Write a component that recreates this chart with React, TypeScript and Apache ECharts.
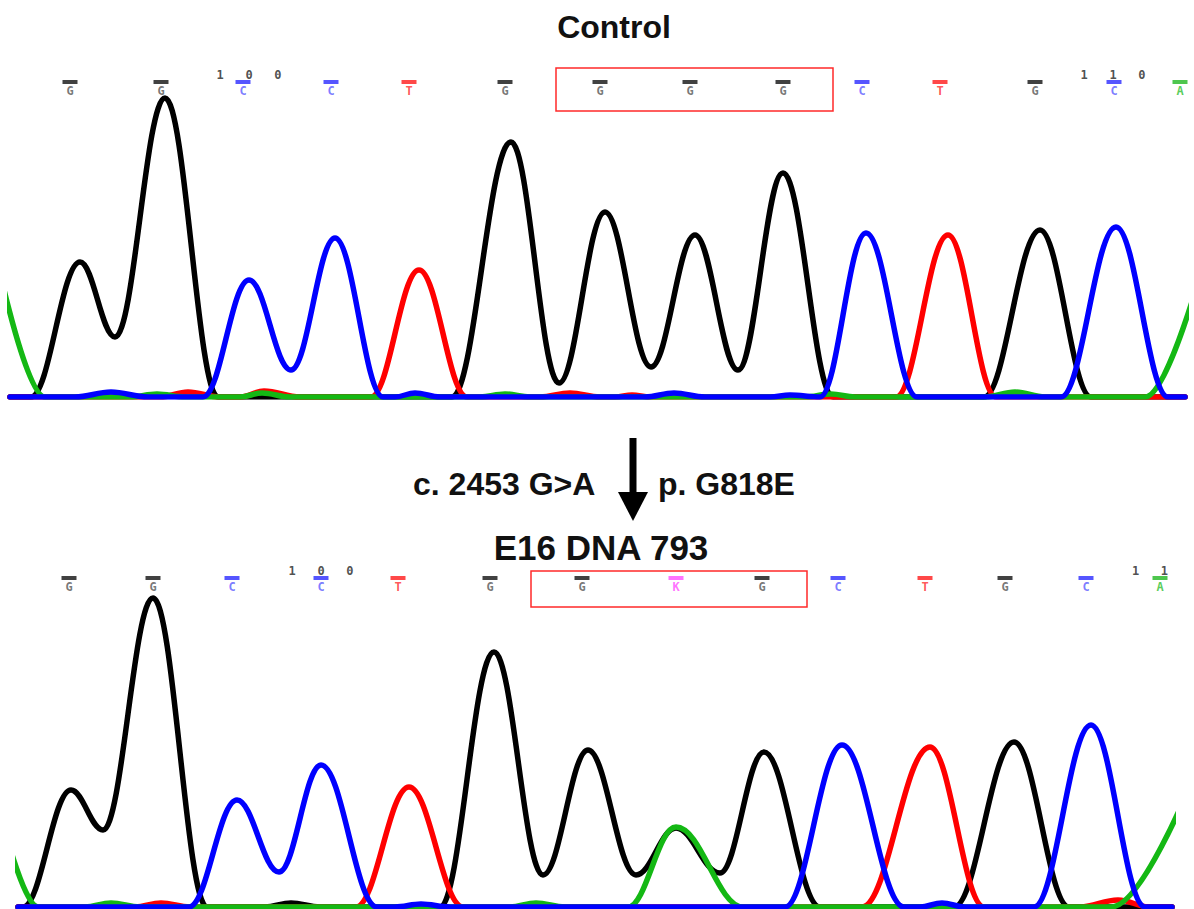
import React, { useEffect, useRef } from "react";
import * as echarts from "echarts";

// ---------- Data (trace position, signal) ----------
// Control (top) traces
const topBlack = [[10, 0], [31, 0], [80, 135], [115, 60], [165, 299], [218, 0], [452, 0], [511, 255], [559, 14], [605, 185], [651, 30], [695, 162], [738, 27], [783, 224], [833, 0], [984, 0], [1040, 167], [1091, 0], [1185, 0]];
const topBlue = [[10, 0], [75, 0], [111, 5], [148, 0], [203, 0], [249, 117], [291, 27], [335, 159], [383, 0], [395, 0], [415, 4], [440, 0], [645, 0], [674, 4], [705, 0], [770, 0], [790, 2], [820, 0], [866, 164], [917, 0], [1061, 0], [1116, 170], [1168, 0], [1185, 0]];
const topRed = [[10, 0], [160, 0], [188, 5], [220, 0], [240, 0], [264, 6], [300, 0], [371, 0], [419, 127], [467, 0], [540, 0], [570, 4], [600, 0], [615, 0], [632, 2], [650, 0], [896, 0], [948, 162], [996, 0], [1185, 0]];
const topGreen = [[-10, 170], [45, 0], [130, 0], [157, 3], [185, 0], [240, 0], [262, 4], [290, 0], [480, 0], [505, 3], [530, 0], [805, 0], [831, 3], [855, 0], [985, 0], [1015, 5], [1045, 0], [1145, 0], [1205, 140]];

// E16 DNA 793 (bottom) traces
const botBlack = [[18, 0], [23, 0], [71, 117], [103, 77], [153, 309], [207, 0], [265, 0], [291, 4], [320, 0], [440, 0], [494, 255], [543, 32], [588, 157], [636, 32], [676, 79], [720, 34], [764, 155], [820, 0], [954, 0], [1014, 165], [1069, 0], [1172, 0]];
const botBlue = [[18, 0], [189, 0], [237, 107], [279, 35], [321, 142], [377, 0], [395, 0], [421, 3], [450, 0], [785, 0], [842, 162], [904, 0], [920, 0], [942, 4], [965, 0], [1034, 0], [1091, 182], [1145, 0], [1172, 0]];
const botRed = [[18, 0], [135, 0], [161, 4], [190, 0], [356, 0], [409, 120], [463, 0], [862, 0], [930, 160], [984, 0], [1080, 0], [1118, 7], [1150, 0], [1172, 0]];
const botGreen = [[0, 95], [38, 0], [85, 0], [111, 4], [140, 0], [510, 0], [536, 4], [565, 0], [628, 0], [676, 80], [743, 0], [1111, 0], [1190, 122]];

// Base calls
const topBases = ["G", "G", "C", "C", "T", "G", "G", "G", "G", "C", "T", "G", "C", "A"];
const topBasePos = [70, 161, 243, 331, 409, 505, 600, 690, 783, 862, 940, 1035, 1114, 1180];
const topNumbers = ["100", "110"];
const topNumberPos = [249, 1113];
const topBox = [556, 833];

const botBases = ["G", "G", "C", "C", "T", "G", "G", "K", "G", "C", "T", "G", "C", "A"];
const botBasePos = [69, 153, 232, 321, 398, 490, 582, 676, 762, 838, 925, 1005, 1086, 1160];
const botNumbers = ["100", "11"];
const botNumberPos = [321, 1150];
const botBox = [531, 807];

// ---------- Styling ----------
const traceColor = { G: "#000000", C: "#0000ff", T: "#ff0000", A: "#14b814" };
const barColor: Record<string, string> = { G: "#111111", C: "#2a2aff", T: "#ff1a1a", A: "#22b822", K: "#ff50ff" };
const letterColor: Record<string, string> = { G: "#555555", C: "#5a5aff", T: "#ff3030", A: "#30c030", K: "#ff50ff" };

function trace(data: number[][], color: string, idx: number, z: number) {
  return {
    type: "line",
    xAxisIndex: idx,
    yAxisIndex: idx,
    data,
    symbol: "none",
    showSymbol: false,
    smooth: 0.38,
    smoothMonotone: "x",
    clip: true,
    silent: true,
    z,
    lineStyle: { color, width: 5.5, join: "round", cap: "round" },
  };
}

function baseLabels(bases: string[], pos: number[], level: number, idx: number, box: number[], boxY: number[]) {
  return {
    type: "scatter",
    xAxisIndex: idx,
    yAxisIndex: idx,
    symbol: "rect",
    symbolSize: [15, 4],
    silent: true,
    z: 10,
    data: bases.map((b, i) => ({
      name: b,
      value: [pos[i], level],
      itemStyle: { color: barColor[b] },
      label: { color: letterColor[b] },
    })),
    label: {
      show: true,
      position: "bottom",
      distance: 1,
      formatter: (p: any) => p.name,
      fontFamily: "DejaVu Sans Mono",
      fontSize: 12,
      fontWeight: "bold",
    },
    markArea: {
      silent: true,
      itemStyle: { color: "rgba(0,0,0,0)", borderColor: "#ff2a2a", borderWidth: 1.5 },
      data: [[{ coord: [box[0], boxY[0]] }, { coord: [box[1], boxY[1]] }]],
    },
  };
}

function numberLabels(nums: string[], pos: number[], level: number, idx: number) {
  return {
    type: "scatter",
    xAxisIndex: idx,
    yAxisIndex: idx,
    symbolSize: 1,
    silent: true,
    z: 10,
    itemStyle: { color: "rgba(0,0,0,0)" },
    data: nums.map((n, i) => ({ name: n, value: [pos[i], level] })),
    label: {
      show: true,
      position: "inside",
      formatter: (p: any) => p.name.split("").join("   "),
      fontFamily: "DejaVu Sans Mono",
      fontSize: 12,
      fontWeight: "bold",
      color: "#222222",
    },
  };
}

const hiddenY = (max: number, idx: number) => ({ type: "value", gridIndex: idx, min: 0, max, show: false });
const baseX = (min: number, max: number, idx: number) => ({
  type: "value",
  gridIndex: idx,
  min,
  max,
  axisLine: { show: true, lineStyle: { color: "#14146e", width: 2 } },
  axisTick: { show: false },
  axisLabel: { show: false },
  splitLine: { show: false },
});

const titleFont = "Liberation Sans, Arial, sans-serif";

const option = {
  animation: false,
  backgroundColor: "#ffffff",
  grid: [
    { left: 10, top: 60, width: 1175, height: 337 },
    { left: 18, top: 560, width: 1154, height: 347 },
  ],
  xAxis: [baseX(10, 1185, 0), baseX(18, 1172, 1)],
  yAxis: [hiddenY(337, 0), hiddenY(347, 1)],
  series: [
    trace(topBlack, traceColor.G, 0, 2),
    trace(topRed, traceColor.T, 0, 3),
    trace(topGreen, traceColor.A, 0, 4),
    trace(topBlue, traceColor.C, 0, 5),
    baseLabels(topBases, topBasePos, 315, 0, topBox, [329, 286]),
    numberLabels(topNumbers, topNumberPos, 322, 0),
    trace(botBlack, traceColor.G, 1, 2),
    trace(botRed, traceColor.T, 1, 3),
    trace(botGreen, traceColor.A, 1, 4),
    trace(botBlue, traceColor.C, 1, 5),
    baseLabels(botBases, botBasePos, 329, 1, botBox, [336, 300]),
    numberLabels(botNumbers, botNumberPos, 336, 1),
  ],
  graphic: [
    {
      type: "text",
      x: 614,
      y: 27,
      style: { text: "Control", fontSize: 32, fontWeight: "bold", fontFamily: titleFont, fill: "#111111", align: "center", verticalAlign: "middle" },
    },
    {
      type: "text",
      x: 413,
      y: 484,
      style: { text: "c. 2453 G>A", fontSize: 32, fontWeight: "bold", fontFamily: titleFont, fill: "#111111", align: "left", verticalAlign: "middle" },
    },
    {
      type: "text",
      x: 658,
      y: 484,
      style: { text: "p. G818E", fontSize: 32, fontWeight: "bold", fontFamily: titleFont, fill: "#111111", align: "left", verticalAlign: "middle" },
    },
    {
      type: "text",
      x: 601,
      y: 547,
      style: { text: "E16 DNA 793", fontSize: 35, fontWeight: "bold", fontFamily: titleFont, fill: "#111111", align: "center", verticalAlign: "middle" },
    },
    { type: "line", shape: { x1: 633, y1: 438, x2: 633, y2: 497 }, style: { stroke: "#000000", lineWidth: 7 } },
    { type: "polygon", shape: { points: [[618, 492], [648, 492], [633, 521]] }, style: { fill: "#000000" } },
  ],
};

export default function App() {
  const ref = useRef<HTMLDivElement>(null);
  useEffect(() => {
    const chart = echarts.init(ref.current!, null, { renderer: "svg" });
    chart.setOption(option as any);
    return () => chart.dispose();
  }, []);
  return (
    <div
      ref={ref}
      style={{ position: "fixed", left: 0, top: 0, width: 1194, height: 909, background: "#ffffff" }}
    />
  );
}
